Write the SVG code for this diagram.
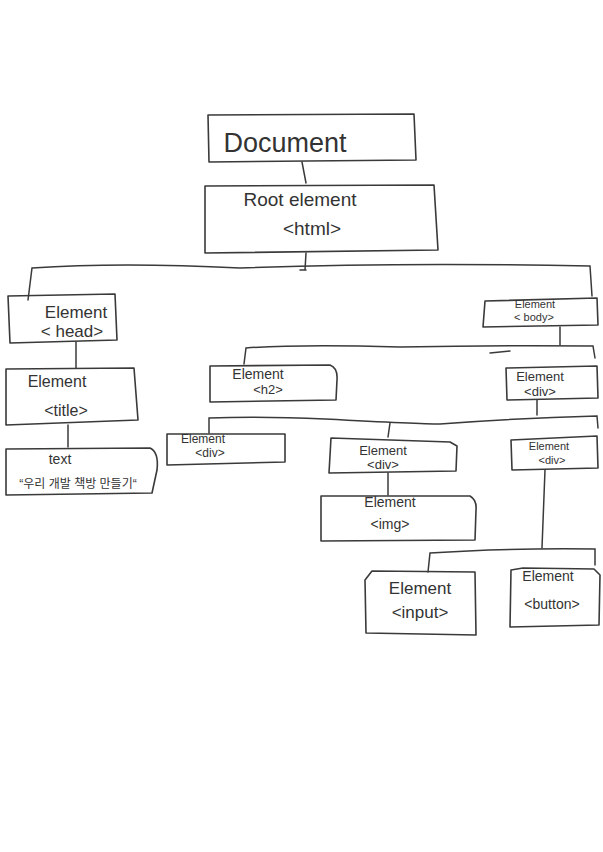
<svg xmlns="http://www.w3.org/2000/svg" width="603" height="852" viewBox="0 0 603 852">
<style>
.b{fill:none;stroke:#3a3a3a;stroke-width:1.6;stroke-linejoin:round;stroke-linecap:round}
.c{fill:none;stroke:#3a3a3a;stroke-width:1.5;stroke-linecap:round}
.t{font-family:"Liberation Sans","Noto Sans CJK KR",sans-serif;fill:#333;text-anchor:middle}
</style>
<rect width="603" height="852" fill="#fff"/>
<g id="connectors">
<path class="c" d="M302,162 L306,183"/>
<path class="c" d="M306,253 L305,270 M300,270 L306,270"/>
<path class="c" d="M28,300 L32,268 Q120,262 240,268 Q400,262 590,266 L592,296"/>
<path class="c" d="M76,342 L76,368"/>
<path class="c" d="M68,425 L68,447"/>
<path class="c" d="M560,327 L560,345"/>
<path class="c" d="M244,364 L246,348 Q300,344 400,347 Q500,345 593,346 L595,358"/>
<path class="c" d="M490,353 L510,351"/>
<path class="c" d="M537,400 L537,415"/>
<path class="c" d="M209,433 L209,418 Q260,416 325,419 Q420,424 440,424 Q520,418 597,416 L598,428"/>
<path class="c" d="M388,437 L390,423"/>
<path class="c" d="M388,473 L388,495"/>
<path class="c" d="M545,470 L542,548"/>
<path class="c" d="M428,572 L430,553 Q500,548 595,549 L595,565"/>
</g>
<g id="document">
<path class="b" d="M208,115 L414,114 L416,160 L209,162 Z"/>
<text class="t" x="285" y="152" font-size="27">Document</text>
</g>
<g id="root">
<path class="b" d="M205,186 L434,185 L438,250 L205,253 Z"/>
<text class="t" x="300" y="206" font-size="19">Root  element</text>
<text class="t" x="312" y="235" font-size="19">&lt;html&gt;</text>
</g>
<g id="head">
<path class="b" d="M8,296 L115,294 L117,340 L10,343 Z"/>
<text class="t" x="76" y="318" font-size="17">Element</text>
<text class="t" x="72" y="337" font-size="17">&lt; head&gt;</text>
</g>
<g id="title">
<path class="b" d="M6,369 L134,368 L138,420 L6,425 Z"/>
<text class="t" x="57" y="387" font-size="16">Element</text>
<text class="t" x="66" y="416" font-size="16">&lt;title&gt;</text>
</g>
<g id="text">
<path class="b" d="M6,449 L150,448 Q159,452 157,470 L152,493 L6,495 Z"/>
<text class="t" x="60" y="464" font-size="14">text</text>
<text class="t" x="78" y="488" font-size="12">“우리 개발 책방 만들기“</text>
</g>
<g id="body">
<path class="b" d="M485,301 L597,298 L598,325 L483,327 Z"/>
<text class="t" x="535" y="308" font-size="11">Element</text>
<text class="t" x="534" y="321" font-size="11">&lt; body&gt;</text>
</g>
<g id="h2">
<path class="b" d="M210,366 L330,365 Q338,368 337,380 L336,400 L210,402 Z"/>
<text class="t" x="258" y="379" font-size="14">Element</text>
<text class="t" x="268" y="394" font-size="13">&lt;h2&gt;</text>
</g>
<g id="div-right">
<path class="b" d="M506,368 L597,366 L598,398 L507,400 Z"/>
<text class="t" x="540" y="381" font-size="13">Element</text>
<text class="t" x="540" y="396" font-size="13">&lt;div&gt;</text>
</g>
<g id="div-a">
<path class="b" d="M167,434 L285,434 L285,462 L167,465 Z"/>
<text class="t" x="203" y="443" font-size="12">Element</text>
<text class="t" x="210" y="457" font-size="12">&lt;div&gt;</text>
</g>
<g id="div-b">
<path class="b" d="M331,438 L450,442 L457,446 L456,471 L329,473 Z"/>
<text class="t" x="383" y="455" font-size="13">Element</text>
<text class="t" x="383" y="469" font-size="13">&lt;div&gt;</text>
</g>
<g id="div-c">
<path class="b" d="M511,440 L597,436 L598,468 L512,470 Z"/>
<text class="t" x="549" y="450" font-size="11">Element</text>
<text class="t" x="552" y="464" font-size="11">&lt;div&gt;</text>
</g>
<g id="img">
<path class="b" d="M321,496 L470,496 Q477,500 476,510 L475,540 L321,541 Z"/>
<text class="t" x="390" y="507" font-size="14">Element</text>
<text class="t" x="390" y="529" font-size="14">&lt;img&gt;</text>
</g>
<g id="input">
<path class="b" d="M372,571 L475,572 L476,635 L366,633 L365,580 Z"/>
<text class="t" x="420" y="594" font-size="17">Element</text>
<text class="t" x="420" y="618" font-size="17">&lt;input&gt;</text>
</g>
<g id="button">
<path class="b" d="M523,568 L594,569 L600,575 L599,625 L510,627 L511,570 Z"/>
<text class="t" x="548" y="581" font-size="14">Element</text>
<text class="t" x="552" y="609" font-size="14">&lt;button&gt;</text>
</g>
</svg>
